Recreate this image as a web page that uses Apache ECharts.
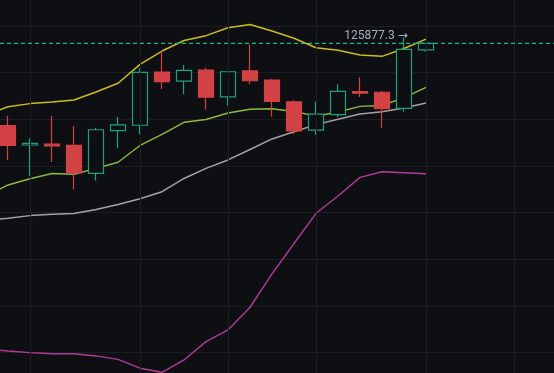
<!DOCTYPE html>
<html>
<head>
<meta charset="utf-8">
<script src="https://cdn.jsdelivr.net/npm/echarts@6/dist/echarts.min.js"></script>
<style>
html,body{margin:0;padding:0;background:#0e0f12;}
#c{width:554px;height:373px;}
</style>
</head>
<body>
<div id="c"></div>
<script>
// categories (daily slots); first is a lead-in slot off the left edge
const categories = ['d0','d1','d2','d3','d4','d5','d6','d7','d8','d9','d10','d11','d12','d13','d14','d15','d16','d17','d18','d19','d20','d21','d22','d23','d24','d25','d26'];
// candles: [open, close, low, high]
const candles = [
  '-',
  [120590,119330,118390,121230],
  [119350,119450,117360,119780],
  [119400,119290,118260,121210],
  [119330,117550,116500,120570],
  [117530,120330,117060,120460],
  [120270,120640,119160,121150],
  [120620,124020,120040,124280],
  [124040,123420,122950,125390],
  [123450,124150,122610,124490],
  [124170,122420,121620,124320],
  [122440,124060,121880,124080],
  [124110,123480,123270,125820],
  [123530,122160,121170,123590],
  [122130,120250,120040,122220],
  [120300,121340,119990,122130],
  [121300,122800,121150,123250],
  [122780,122690,122440,123700],
  [122740,121680,120460,122820],
  [121710,125500,121490,126250],
  [125460,125877.3,125350,125930]
];
const upperBand = [121280,121810,122010,122110,122240,122760,123320,124530,125390,126070,126380,126890,127100,126680,126210,125600,125440,125140,125050,125550,126160];
const maFast    = [116070,116780,117180,117520,117470,117850,118240,119320,120030,120810,120990,121410,121650,121680,121500,121210,121470,121830,121890,122400,123060];
const maSlow    = [114530,114640,114810,114900,114950,115200,115530,115900,116350,117200,117850,118390,119060,119740,120200,120660,121000,121340,121490,121730,122050];
const lowerBand = [106240,106110,106000,105930,105930,105790,105570,105000,104740,105530,106710,107460,108920,111060,113020,114960,116070,117270,117630,117570,117500];
const lastPrice = 125877.3;
const vGridCats = ['d2','d7','d11','d15','d20','d24'];
const yTicks = {min:103000, max:130000, interval:3000};

const chart = echarts.init(document.getElementById('c'), null, {renderer:'canvas'});
const lineCommon = {type:'line', symbol:'none', smooth:false, silent:true, z:3};
chart.setOption({
  backgroundColor:'#0e0f12',
  animation:false,
  grid:{left:-25, right:-15, top:-20.667, bottom:-26.333, outerBoundsMode:'none', containLabel:false},
  xAxis:{type:'category', data:categories, boundaryGap:true,
    axisLine:{show:false}, axisTick:{show:false}, axisLabel:{show:false}, splitLine:{show:false}},
  yAxis:{type:'value', min:yTicks.min, max:yTicks.max, interval:yTicks.interval,
    axisLine:{show:false}, axisTick:{show:false}, axisLabel:{show:false},
    splitLine:{show:true, lineStyle:{color:'#1c1e23', width:1}}},
  series:[
    {type:'line', data:categories.map(()=> '-'), silent:true, z:0,
      markLine:{silent:true, symbol:['none','none'], label:{show:false},
        lineStyle:{color:'#1c1e23', type:'solid', width:1},
        data: vGridCats.map(c=>({xAxis:c}))}},
    Object.assign({}, lineCommon, {name:'lower', data:lowerBand, lineStyle:{color:'#b03c98', width:1.4}}),
    Object.assign({}, lineCommon, {name:'slow', data:maSlow, lineStyle:{color:'#a3a3a6', width:1.5}}),
    Object.assign({}, lineCommon, {name:'fast', data:maFast, lineStyle:{color:'#8cba3c', width:1.4}}),
    Object.assign({}, lineCommon, {name:'upper', data:upperBand, lineStyle:{color:'#cdbb25', width:1.5}}),
    {type:'candlestick', data:candles, barWidth:16, z:4,
      itemStyle:{color:'#0e0f12', color0:'#d24244', borderColor:'#22a07d', borderColor0:'#d24244', borderWidth:1.2}},
    {type:'line', name:'last', data:categories.map(()=> lastPrice), symbol:'none', silent:true, z:5,
      color:'#1fb58d', itemStyle:{color:'#1fb58d'},
      lineStyle:{color:'#1fb58d', type:[4,3], width:1.3, opacity:1},
      markPoint:{silent:true, symbol:'circle', symbolSize:1,
        itemStyle:{color:'rgba(0,0,0,0)'},
        label:{show:true, position:'inside', offset:[-6,-7], color:'#a7b0c2', fontSize:12,
          fontFamily:'Roboto, "DejaVu Sans", sans-serif', formatter: ()=> lastPrice.toFixed(1) + ' \u2192'},
        data:[{coord:['d18', lastPrice]}]}
    }
  ]
});
</script>
</body>
</html>
